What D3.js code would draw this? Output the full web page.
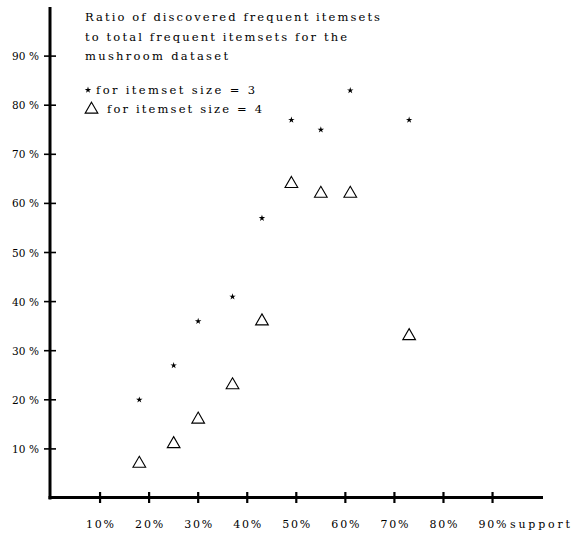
<!DOCTYPE html>
<html><head><meta charset="utf-8">
<script src="https://cdn.jsdelivr.net/npm/d3@7"></script>
<style>body{margin:0;background:#fff}svg{display:block}text{font-family:"DejaVu Serif","Liberation Serif",serif;fill:#000}</style>
</head><body>
<svg id="c" width="572" height="536"></svg>
<script>
const support = [18, 25, 30, 37, 43, 49, 55, 61, 73];
const size3 = [20, 27, 36, 41, 57, 77, 75, 83, 77];
const size4 = [7, 11, 16, 23, 36, 64, 62, 62, 33];
const xTicks = [10, 20, 30, 40, 50, 60, 70, 80, 90];
const yTicks = [10, 20, 30, 40, 50, 60, 70, 80, 90];
const titleLines = ["Ratio of discovered frequent itemsets", "to total frequent itemsets for the", "mushroom dataset"];
const legendLabels = ["for itemset size = 3", "for itemset size = 4"];

const svg = d3.select("#c");
const x = d3.scaleLinear().domain([0, 100]).range([51, 541.6]);
const y = d3.scaleLinear().domain([0, 100]).range([498, 7]);

// axes lines
svg.append("line").attr("x1", x(0)-1).attr("x2", x(0)-1).attr("y1", y(100)).attr("y2", y(0)+1.5)
  .attr("stroke", "#000").attr("stroke-width", 3);
svg.append("line").attr("x1", x(0)-2.5).attr("x2", 543).attr("y1", y(0)-0.5).attr("y2", y(0)-0.5)
  .attr("stroke", "#000").attr("stroke-width", 3);

// x ticks
const xa = svg.append("g");
xTicks.forEach(t => {
  xa.append("line").attr("x1", x(t)).attr("x2", x(t)).attr("y1", y(0)-6).attr("y2", y(0)+5)
    .attr("stroke", "#000").attr("stroke-width", 2.2);
  xa.append("text").attr("x", x(t)).attr("y", 528).attr("text-anchor", "middle")
    .attr("font-size", 11).attr("textLength", 28).attr("lengthAdjust", "spacing").text(t + "%");
});
svg.append("text").attr("x", 510).attr("y", 528).attr("font-size", 11)
  .attr("textLength", 60).attr("lengthAdjust", "spacing").text("support");

// y ticks
const ya = svg.append("g");
yTicks.forEach(t => {
  ya.append("line").attr("x1", x(0)-7).attr("x2", x(0)+5).attr("y1", y(t)).attr("y2", y(t))
    .attr("stroke", "#000").attr("stroke-width", 1.6);
  ya.append("text").attr("x", 39).attr("y", y(t)+4).attr("text-anchor", "end")
    .attr("font-size", 10.5).attr("textLength", 27).attr("lengthAdjust", "spacing").text(t + " %");
});

// title
const titleW = [295, 262, 143];
titleLines.forEach((s, i) => {
  svg.append("text").attr("x", 85).attr("y", 21 + i*19.5).attr("font-size", 11.5)
    .attr("textLength", titleW[i]).attr("lengthAdjust", "spacing").text(s);
});

const star = d3.symbol().type(d3.symbolStar).size(13);
const tri = d3.symbol().type(d3.symbolTriangle).size(70);

// legend
svg.append("path").attr("d", star()).attr("transform", "translate(88,90)").attr("fill", "#000");
svg.append("text").attr("x", 96).attr("y", 94).attr("font-size", 11.5)
  .attr("textLength", 159).attr("lengthAdjust", "spacing").text(legendLabels[0]);
svg.append("path").attr("d", tri()).attr("transform", "translate(91.5,109.5)")
  .attr("fill", "none").attr("stroke", "#000").attr("stroke-width", 1.1);
svg.append("text").attr("x", 107).attr("y", 113).attr("font-size", 11.5)
  .attr("textLength", 155).attr("lengthAdjust", "spacing").text(legendLabels[1]);

// points
svg.append("g").selectAll("path").data(support.map((s, i) => [s, size3[i]])).join("path")
  .attr("d", star()).attr("transform", d => `translate(${x(d[0])},${y(d[1])})`).attr("fill", "#000");
svg.append("g").selectAll("path").data(support.map((s, i) => [s, size4[i]])).join("path")
  .attr("d", tri()).attr("transform", d => `translate(${x(d[0])},${y(d[1])})`)
  .attr("fill", "none").attr("stroke", "#000").attr("stroke-width", 1.1);
</script>
</body></html>
